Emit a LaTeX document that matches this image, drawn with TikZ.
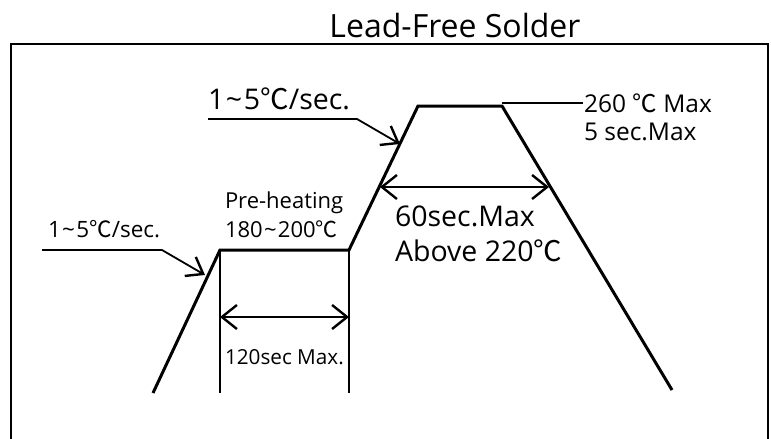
\documentclass[tikz,border=0pt]{standalone}
\usepackage{fontspec}
\setmainfont{Open Sans}
\newfontfamily\cjk{Noto Sans CJK KR}
\newcommand{\degC}{{\cjk ℃}}
\newcommand{\tld}{\hspace{0.06em}\char"007E\hspace{0.06em}}
\usetikzlibrary{arrows.meta}
\tikzset{
  profile/.style={line width=3pt, line join=miter},
  thin/.style={line width=1.6pt},
  barb/.style={Straight Barb[length=15pt,width=24pt,line width=2.4pt]},
  dimarrow/.style={line width=2pt, {Straight Barb[length=15pt,width=24pt,line width=2.4pt]}-{Straight Barb[length=15pt,width=24pt,line width=2.4pt]}},
  leader/.style={line width=1.8pt, -{Straight Barb[length=15pt,width=22pt,line width=2.4pt]}},
  lbl/.style={anchor=base west, inner sep=0pt, outer sep=0pt},
}
\begin{document}
\begin{tikzpicture}[x=1pt,y=-1pt]
\useasboundingbox (0,0) rectangle (771,439);
% frame
\draw[line width=2.2pt] (11,450) -- (11,44) -- (768,44) -- (768,450);
% title
\node[anchor=base, inner sep=0pt, font=\fontsize{32}{36}\selectfont] (title) at (455,37) {Lead-Free Solder};
% profile
\coordinate (p0) at (153,393);
\coordinate (p1) at (220,250);
\coordinate (p2) at (349,250);
\coordinate (p3) at (418,106);
\coordinate (p4) at (502,106);
\coordinate (p5) at (672,390);
\draw[profile] (p0) -- (p1) -- (p2) -- (p3) -- (p4) -- (p5);
% preheat verticals
\coordinate (v1) at (220,393);
\coordinate (v2) at (349,393);
\draw[thin] (p1) -- (v1);
\draw[thin] (p2) -- (v2);
% 120 sec arrow
\coordinate (a1) at (220,317);
\coordinate (a2) at (349,317);
\draw[dimarrow] (a1) -- (a2);
% 60 sec arrow
\coordinate (b1) at (380,187);
\coordinate (b2) at (549,187);
\draw[dimarrow] (b1) -- (b2);
% upper slope leader
\coordinate (u0) at (208,119);
\coordinate (u1) at (357,119);
\coordinate (u2) at (400,144);
\draw[leader] (u0) -- (u1) -- (u2);
% left slope leader
\coordinate (l0) at (42,250);
\coordinate (l1) at (162,250);
\coordinate (l2) at (205,275);
\draw[leader] (l0) -- (l1) -- (l2);
% peak leader
\coordinate (k0) at (502,103);
\coordinate (k1) at (583,103);
\draw[thin] (k0) -- (k1);
% labels
\node[lbl, font=\fontsize{28.5}{32}\selectfont] (upr) at (208,109) {1\tld 5\degC/sec.};
\node[lbl, font=\fontsize{22.5}{26}\selectfont] (lft) at (48,237) {1\tld 5\degC/sec.};
\node[lbl, font=\fontsize{22}{26}\selectfont] (pre) at (225,208) {Pre-heating};
\node[lbl, font=\fontsize{22}{26}\selectfont] (pret) at (225,237) {180\tld 200\degC};
\node[lbl, font=\fontsize{20.7}{24}\selectfont] (t120) at (225,364) {120sec Max.};
\node[lbl, font=\fontsize{24.5}{28}\selectfont] (pk1) at (584,112) {260 \degC{} Max};
\node[lbl, font=\fontsize{24.5}{28}\selectfont] (pk2) at (584,140) {5 sec.Max};
\node[lbl, font=\fontsize{28.5}{32}\selectfont] (t60) at (395,226) {60sec.Max};
\node[lbl, font=\fontsize{28.5}{32}\selectfont] (abv) at (395,261) {Above 220\degC};
\end{tikzpicture}
\end{document}
